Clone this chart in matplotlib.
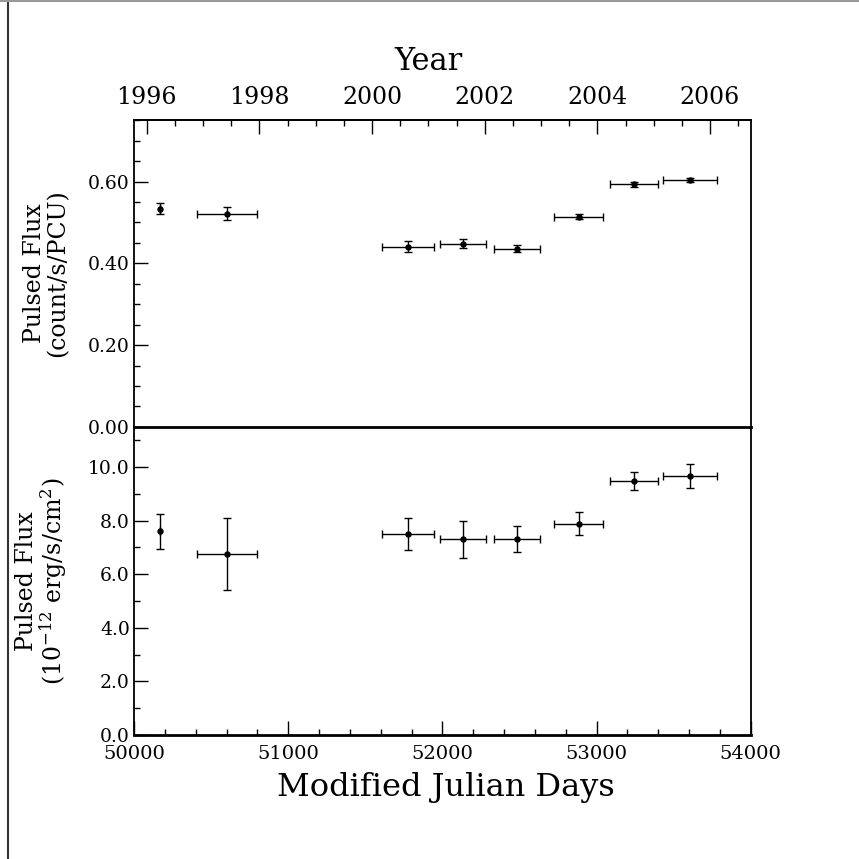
import matplotlib
matplotlib.use('Agg')
import matplotlib.pyplot as plt
from matplotlib.ticker import MultipleLocator, FormatStrFormatter
from matplotlib.lines import Line2D

plt.rcParams['font.family'] = ['DejaVu Serif']
plt.rcParams['mathtext.fontset'] = 'dejavuserif'

# observation epochs (MJD) and half-widths of each interval
mjd = [50171, 50602, 51778, 52131, 52485, 52884, 53241, 53608]
mjd_err = [0, 193, 170, 149, 148, 158, 157, 174]

# pulsed count rate (count/s/PCU)
rate = [0.534, 0.521, 0.441, 0.448, 0.436, 0.514, 0.593, 0.604]
rate_err = [0.014, 0.016, 0.0125, 0.0105, 0.008, 0.0065, 0.0065, 0.006]

# pulsed energy flux (1e-12 erg/s/cm2)
flux = [7.61, 6.76, 7.50, 7.30, 7.31, 7.89, 9.48, 9.68]
flux_err = [0.65, 1.33, 0.61, 0.68, 0.49, 0.43, 0.33, 0.45]

def mjd2yr(m):
    return 1996.0 + (m - 50083.0) / 365.25

def yr2mjd(y):
    return 50083.0 + (y - 1996.0) * 365.25

fig = plt.figure(figsize=(8.59, 8.59), dpi=100)
left, width = 0.156, 0.718
ax1 = fig.add_axes([left, 0.503, width, 0.357])
ax2 = fig.add_axes([left, 0.1444, width, 0.3586], sharex=ax1)

ebkw = dict(fmt='o', color='black', ms=3.6, elinewidth=1.0, capsize=3.2, capthick=1.0)

ax1.errorbar(mjd, rate, xerr=mjd_err, yerr=rate_err, **ebkw)
ax2.errorbar(mjd, flux, xerr=mjd_err, yerr=flux_err, **ebkw)

ax1.set_xlim(50000, 54000)
ax1.set_ylim(0, 0.75)
ax2.set_ylim(0, 11.5)

# top panel
ax1.yaxis.set_major_locator(MultipleLocator(0.2))
ax1.yaxis.set_minor_locator(MultipleLocator(0.05))
ax1.yaxis.set_major_formatter(FormatStrFormatter('%.2f'))
ax1.tick_params(axis='x', which='both', bottom=False, top=False, labelbottom=False)
ax1.spines['bottom'].set_visible(False)

# bottom panel
ax2.yaxis.set_major_locator(MultipleLocator(2))
ax2.yaxis.set_minor_locator(MultipleLocator(1))
ax2.yaxis.set_major_formatter(FormatStrFormatter('%.1f'))
ax2.xaxis.set_major_locator(MultipleLocator(1000))
ax2.xaxis.set_minor_locator(MultipleLocator(200))
ax2.xaxis.set_major_formatter(FormatStrFormatter('%d'))
ax2.tick_params(axis='x', which='both', top=False)
ax2.spines['top'].set_linewidth(2.0)
ax2.spines['bottom'].set_linewidth(2.0)

for ax in (ax1, ax2):
    ax.tick_params(which='both', direction='in', right=False, labelsize=14, colors='black')
    ax.tick_params(which='major', length=10, width=1.0)
    ax.tick_params(which='minor', length=4.5, width=1.0)
    ax.tick_params(axis='y', pad=3, labelsize=13.5)
    for s in ['left', 'right']:
        ax.spines[s].set_linewidth(1.3)
ax1.spines['top'].set_linewidth(1.3)
ax2.tick_params(axis='x', pad=7)

# year axis on top
sec = ax1.secondary_xaxis('top', functions=(mjd2yr, yr2mjd))
sec.xaxis.set_major_locator(MultipleLocator(2))
sec.xaxis.set_minor_locator(MultipleLocator(0.5))
sec.xaxis.set_major_formatter(FormatStrFormatter('%d'))
sec.tick_params(which='both', direction='in', labelsize=17, pad=8)
sec.tick_params(which='major', length=10, width=1.0)
sec.tick_params(which='minor', length=4.5, width=1.0)
sec.spines['top'].set_linewidth(1.3)
ax1.text(0.477, 1.19, 'Year', transform=ax1.transAxes, fontsize=22, ha='center', va='center')

ax2.set_xlabel('Modified Julian Days', fontsize=23)
ax2.xaxis.set_label_coords(0.506, -0.12)
ax1.set_ylabel('Pulsed Flux\n(count/s/PCU)', fontsize=17, linespacing=1.0)
ax2.set_ylabel('Pulsed Flux\n(10$^{-12}$ erg/s/cm$^{2}$)', fontsize=17, linespacing=1.0)
ax1.yaxis.set_label_coords(-0.105, 0.5)
ax2.yaxis.set_label_coords(-0.105, 0.5)

# page frame lines
fig.add_artist(Line2D([8 / 859, 8 / 859], [0, 1], transform=fig.transFigure, color='#333333', lw=1.5))
fig.add_artist(Line2D([0, 1], [1 - 1 / 859, 1 - 1 / 859], transform=fig.transFigure, color='#999999', lw=1.5))

fig.savefig('out.png', dpi=100, facecolor='white')
